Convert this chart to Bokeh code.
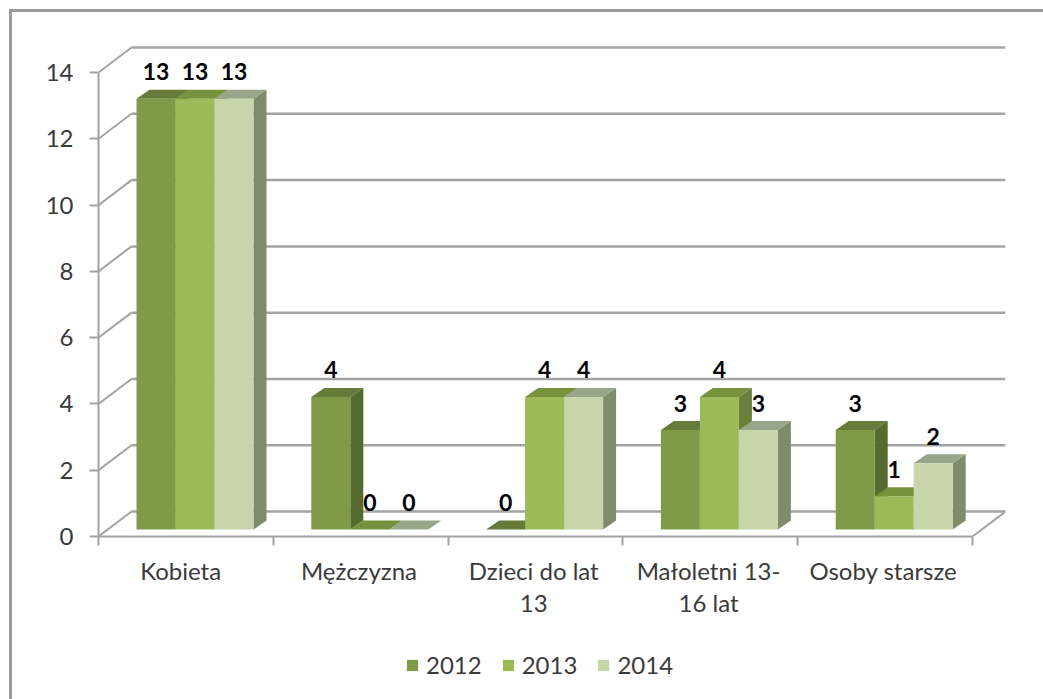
from bokeh.plotting import figure
from bokeh.layouts import column
from bokeh.embed import file_html
from bokeh.resources import INLINE
from bokeh.models import (FixedTicker, Legend, LegendItem, Range1d, LinearAxis, InlineStyleSheet)
from bokeh.core.properties import value

categories = ["Kobieta", "Mężczyzna", "Dzieci do lat\n13", "Małoletni 13-\n16 lat", "Osoby starsze"]
label_positions = [0.47, 1.49, 2.49, 3.49, 4.49]
years = ["2012", "2013", "2014"]
v2012 = [13, 4, 0, 3, 3]
v2013 = [13, 0, 4, 4, 1]
v2014 = [13, 0, 4, 3, 2]
series = [v2012, v2013, v2014]
y_ticks = [0, 2, 4, 6, 8, 10, 12, 14]

front = ["#7F9B48", "#9BBB59", "#C6D5AA"]
top = ["#667B39", "#76923C", "#97A588"]
side = ["#556A2E", "#68803A", "#7F8B6B"]
grid = "#A3A3A3"
FONT = "Lato"
TXT = "#3A3A3A"

PX_X = 174.8
PX_Y = 33.14
WALL_DX = 33 / PX_X
WALL_DY = 25 / PX_Y
BASE = 7 / PX_Y
BAR_W = 39 / PX_X
BAR_GAP = 38 / PX_X
DX = 13 / PX_X
DY = 9 / PX_Y

p = figure(width=1043, height=645, output_backend="svg", toolbar_location=None,
           x_range=Range1d(0, 907 / PX_X), y_range=Range1d(0, 492 / PX_Y),
           x_axis_type=None, y_axis_type=None,
           min_border_left=98, min_border_right=38, min_border_top=44, min_border_bottom=109,
           frame_width=907, frame_height=492, outline_line_color=None, background_fill_color="white")
p.grid.visible = False

yax = LinearAxis(ticker=FixedTicker(ticks=y_ticks), bounds=(0, 14))
yax.axis_line_color = grid
yax.axis_line_width = 2
yax.major_tick_line_color = grid
yax.major_tick_line_width = 2
yax.major_tick_in = 0
yax.major_tick_out = 9
yax.minor_tick_line_color = None
yax.major_label_standoff = 16
yax.major_label_text_font = FONT
yax.major_label_text_font_size = "24px"
yax.major_label_text_color = TXT
p.add_layout(yax, "left")

edges = [float(i) for i in range(len(categories) + 1)]
xax = LinearAxis(ticker=FixedTicker(ticks=label_positions, minor_ticks=edges), bounds=(0, 5))
xax.major_label_overrides = {c: n for c, n in zip(label_positions, categories)}
xax.axis_line_color = grid
xax.axis_line_width = 2
xax.major_tick_line_color = None
xax.major_tick_in = 0
xax.major_tick_out = 9
xax.minor_tick_line_color = grid
xax.minor_tick_line_width = 2
xax.minor_tick_in = 0
xax.minor_tick_out = 9
xax.major_label_standoff = 10
xax.major_label_text_font = FONT
xax.major_label_text_font_size = "24px"
xax.major_label_text_color = TXT
xax.major_label_text_line_height = 1.13
p.add_layout(xax, "below")

# back wall lines and floor
p.segment(x0=[WALL_DX] * len(y_ticks), y0=[t + WALL_DY for t in y_ticks],
          x1=[5 + WALL_DX] * len(y_ticks), y1=[t + WALL_DY for t in y_ticks],
          line_color=grid, line_width=2.5)
p.segment(x0=[0] * len(y_ticks), y0=y_ticks, x1=[WALL_DX] * len(y_ticks),
          y1=[t + WALL_DY for t in y_ticks], line_color=grid, line_width=2)
p.segment(x0=[5], y0=[0], x1=[5 + WALL_DX], y1=[WALL_DY], line_color=grid, line_width=2)

for s, vals in enumerate(series):
    lefts = [i + BAR_GAP + s * BAR_W for i in range(len(vals))]
    rights = [l + BAR_W for l in lefts]
    tops = [v + BASE for v in vals]
    p.patches(xs=[[r, r + DX, r + DX, r] for r in rights],
              ys=[[BASE, BASE + DY, t + DY, t] for t in tops],
              fill_color=side[s], line_color=None)
    p.patches(xs=[[l, r, r + DX, l + DX] for l, r in zip(lefts, rights)],
              ys=[[t, t, t + DY, t + DY] for t in tops],
              fill_color=top[s], line_color=None)
    p.quad(left=lefts, right=rights, bottom=[BASE] * len(vals), top=tops,
           fill_color=front[s], line_color=None)
    p.text(x=[(l + r) / 2 for l, r in zip(lefts, rights)], y=tops, text=[str(v) for v in vals],
           text_font=value(FONT), text_font_style="bold", text_font_size="23px", text_color="#000000",
           text_align="center", text_baseline="middle", y_offset=-27)

# legend strip below the chart; its swatches come from off-range quads
lp = figure(width=1043, height=54, output_backend="svg", toolbar_location=None,
            x_range=Range1d(0, 1), y_range=Range1d(0, 1), x_axis_type=None, y_axis_type=None,
            min_border=0, outline_line_color=None, background_fill_color="white")
lp.grid.visible = False
items = []
for s, year in enumerate(years):
    q = lp.quad(left=[-2], right=[-1], bottom=[-2], top=[-1], fill_color=front[s], line_color=None)
    items.append(LegendItem(label=year, renderers=[q]))
legend = Legend(items=items, orientation="horizontal", location=(307, 20),
                glyph_width=14, glyph_height=14, label_standoff=7, spacing=19, padding=0,
                margin=0, border_line_color=None, background_fill_alpha=0,
                label_text_font=FONT, label_text_font_size="24px", label_text_color=TXT)
lp.add_layout(legend)

p.stylesheets = [InlineStyleSheet(css=""":host::after { content:''; position:absolute; left:9px; top:9px;
 right:0; bottom:0; border-left:3px solid #9A9A9A; border-top:3px solid #9A9A9A; pointer-events:none; z-index:10; }""")]
lp.stylesheets = [InlineStyleSheet(css=""":host::after { content:''; position:absolute; left:9px; top:0;
 right:0; bottom:0; border-left:3px solid #9A9A9A; pointer-events:none; z-index:10; }""")]

page = column(p, lp, spacing=0)
open("out.html", "w").write(file_html(page, INLINE))
